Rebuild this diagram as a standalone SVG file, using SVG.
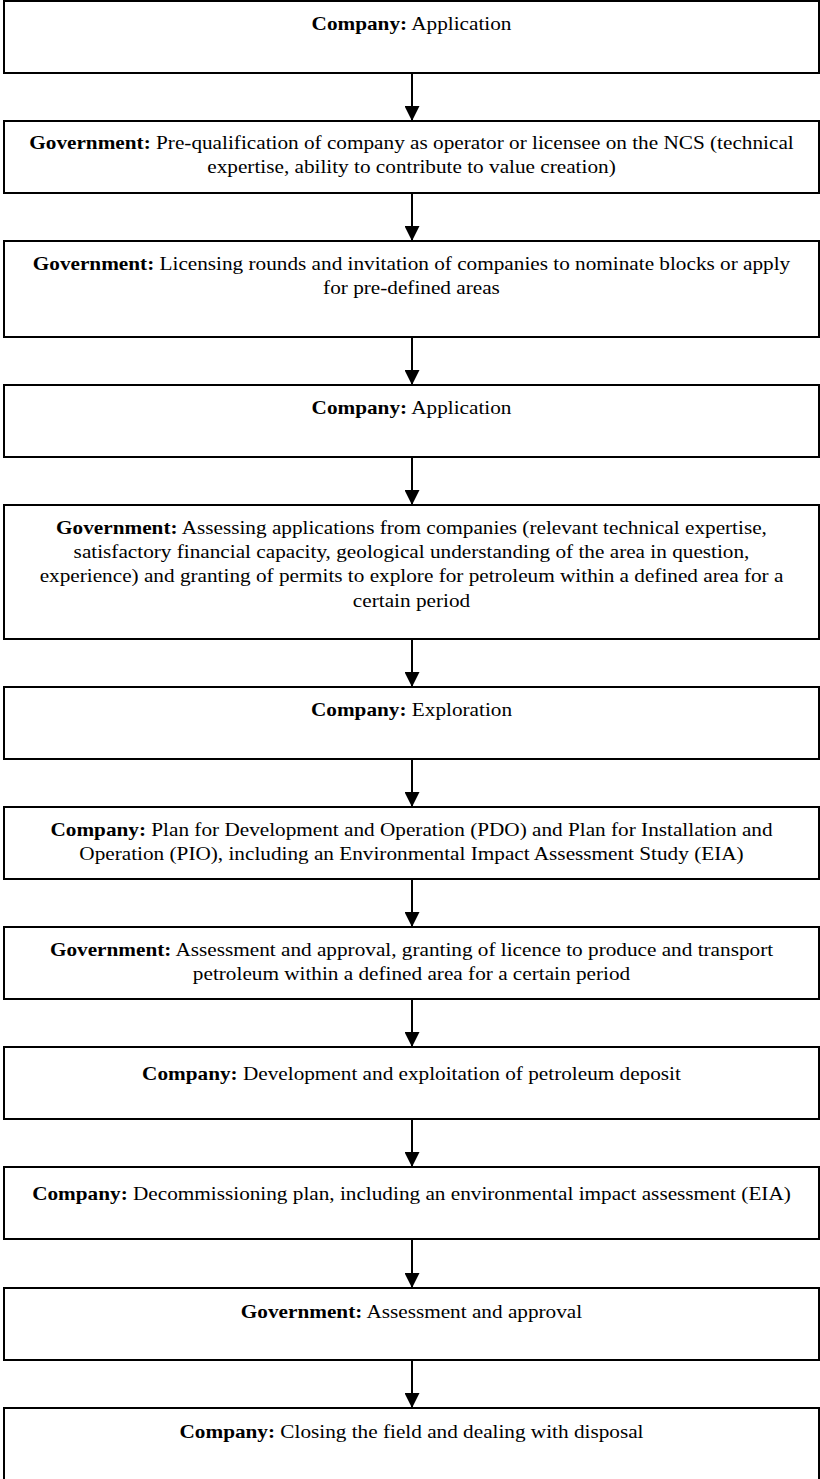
<svg xmlns="http://www.w3.org/2000/svg" width="820" height="1479" viewBox="0 0 820 1479">
  <style>
    .box { fill: #ffffff; stroke: #000000; stroke-width: 2; }
    .lbl { font-family: "Liberation Serif", "Times New Roman", serif; font-size: 18px; fill: #000000; text-anchor: middle; }
    .who { font-weight: bold; }
    .flow { stroke: #000000; stroke-width: 2; fill: none; marker-end: url(#head); }
  </style>
  <defs>
    <marker id="head" viewBox="0 0 15 15" refX="15" refY="7.5" markerWidth="15" markerHeight="15" markerUnits="userSpaceOnUse" orient="auto">
      <path d="M0,0 L15,7.5 L0,15 Z" fill="#000000"/>
    </marker>
  </defs>
  <rect width="820" height="1479" fill="#ffffff"/>

  <!-- connectors between consecutive steps -->
  <g id="connectors">
    <line class="flow" x1="412" y1="73" x2="412" y2="121"/>
    <line class="flow" x1="412" y1="193" x2="412" y2="241"/>
    <line class="flow" x1="412" y1="337" x2="412" y2="385"/>
    <line class="flow" x1="412" y1="457" x2="412" y2="505"/>
    <line class="flow" x1="412" y1="639" x2="412" y2="687"/>
    <line class="flow" x1="412" y1="759" x2="412" y2="807"/>
    <line class="flow" x1="412" y1="879" x2="412" y2="927"/>
    <line class="flow" x1="412" y1="999" x2="412" y2="1047"/>
    <line class="flow" x1="412" y1="1119" x2="412" y2="1167"/>
    <line class="flow" x1="412" y1="1239" x2="412" y2="1288"/>
    <line class="flow" x1="412" y1="1360" x2="412" y2="1408"/>
  </g>

  <!-- labels are set in a slightly widened serif, centred on x = 411.5 -->
  <g id="step1">
    <rect class="box" x="4" y="1" width="815" height="72"/>
    <text class="lbl" transform="matrix(1.18 0 0 1 411.5 0)" x="0" y="30"><tspan class="who">Company:</tspan> Application</text>
  </g>

  <g id="step2">
    <rect class="box" x="4" y="121" width="815" height="72"/>
    <g transform="matrix(1.18 0 0 1 411.5 0)">
      <text class="lbl" x="0" y="149"><tspan class="who">Government:</tspan> Pre-qualification of company as operator or licensee on the NCS (technical</text>
      <text class="lbl" x="0" y="173">expertise, ability to contribute to value creation)</text>
    </g>
  </g>

  <g id="step3">
    <rect class="box" x="4" y="241" width="815" height="96"/>
    <g transform="matrix(1.18 0 0 1 411.5 0)">
      <text class="lbl" x="0" y="270"><tspan class="who">Government:</tspan> Licensing rounds and invitation of companies to nominate blocks or apply</text>
      <text class="lbl" x="0" y="294">for pre-defined areas</text>
    </g>
  </g>

  <g id="step4">
    <rect class="box" x="4" y="385" width="815" height="72"/>
    <text class="lbl" transform="matrix(1.18 0 0 1 411.5 0)" x="0" y="414"><tspan class="who">Company:</tspan> Application</text>
  </g>

  <g id="step5">
    <rect class="box" x="4" y="505" width="815" height="134"/>
    <g transform="matrix(1.18 0 0 1 411.5 0)">
      <text class="lbl" x="0" y="534"><tspan class="who">Government:</tspan> Assessing applications from companies (relevant technical expertise,</text>
      <text class="lbl" x="0" y="558">satisfactory financial capacity, geological understanding of the area in question,</text>
      <text class="lbl" x="0" y="582">experience) and granting of permits to explore for petroleum within a defined area for a</text>
      <text class="lbl" x="0" y="607">certain period</text>
    </g>
  </g>

  <g id="step6">
    <rect class="box" x="4" y="687" width="815" height="72"/>
    <text class="lbl" transform="matrix(1.18 0 0 1 411.5 0)" x="0" y="716"><tspan class="who">Company:</tspan> Exploration</text>
  </g>

  <g id="step7">
    <rect class="box" x="4" y="807" width="815" height="72"/>
    <g transform="matrix(1.18 0 0 1 411.5 0)">
      <text class="lbl" x="0" y="836"><tspan class="who">Company:</tspan> Plan for Development and Operation (PDO) and Plan for Installation and</text>
      <text class="lbl" x="0" y="860">Operation (PIO), including an Environmental Impact Assessment Study (EIA)</text>
    </g>
  </g>

  <g id="step8">
    <rect class="box" x="4" y="927" width="815" height="72"/>
    <g transform="matrix(1.18 0 0 1 411.5 0)">
      <text class="lbl" x="0" y="956"><tspan class="who">Government:</tspan> Assessment and approval, granting of licence to produce and transport</text>
      <text class="lbl" x="0" y="980">petroleum within a defined area for a certain period</text>
    </g>
  </g>

  <g id="step9">
    <rect class="box" x="4" y="1047" width="815" height="72"/>
    <text class="lbl" transform="matrix(1.18 0 0 1 411.5 0)" x="0" y="1080"><tspan class="who">Company:</tspan> Development and exploitation of petroleum deposit</text>
  </g>

  <g id="step10">
    <rect class="box" x="4" y="1167" width="815" height="72"/>
    <text class="lbl" transform="matrix(1.18 0 0 1 411.5 0)" x="0" y="1200"><tspan class="who">Company:</tspan> Decommissioning plan, including an environmental impact assessment (EIA)</text>
  </g>

  <g id="step11">
    <rect class="box" x="4" y="1288" width="815" height="72"/>
    <text class="lbl" transform="matrix(1.18 0 0 1 411.5 0)" x="0" y="1318"><tspan class="who">Government:</tspan> Assessment and approval</text>
  </g>

  <g id="step12">
    <rect class="box" x="4" y="1408" width="815" height="72"/>
    <text class="lbl" transform="matrix(1.18 0 0 1 411.5 0)" x="0" y="1438"><tspan class="who">Company:</tspan> Closing the field and dealing with disposal</text>
  </g>
</svg>
